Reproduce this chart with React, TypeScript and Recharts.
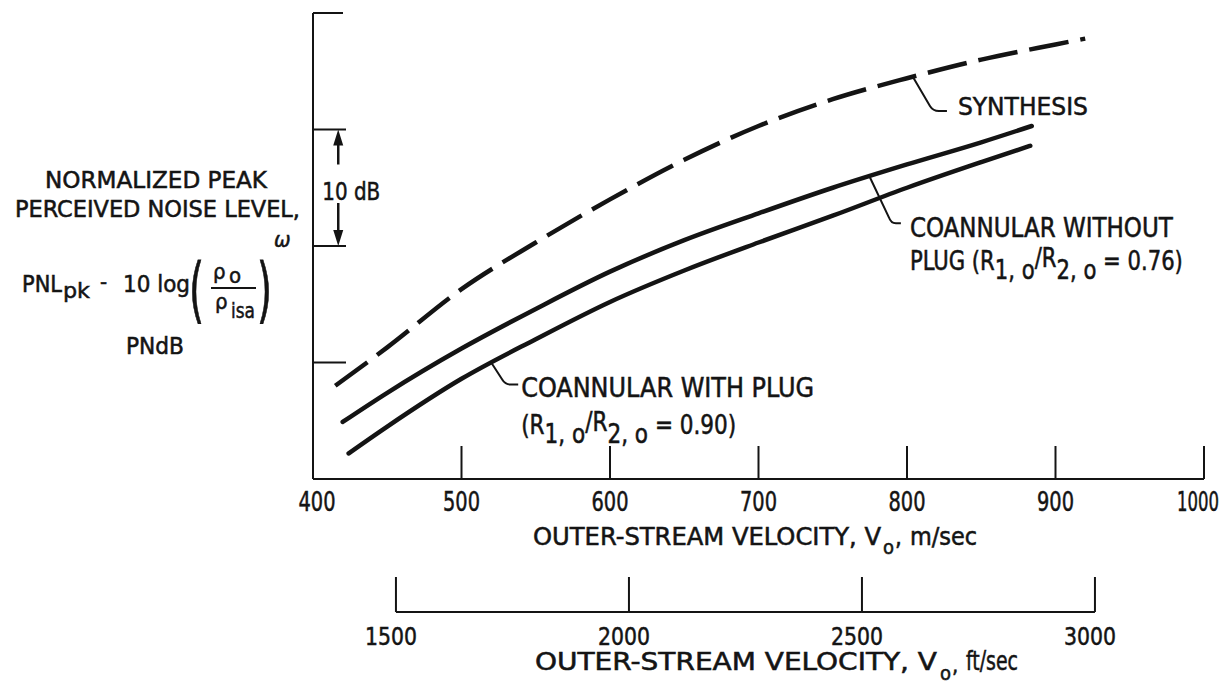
import React from 'react';
import { LineChart, Line, XAxis, YAxis, ReferenceDot, ReferenceLine } from 'recharts';

// axes
const velocityTicks = [400, 500, 600, 700, 800, 900, 1000];
const feetTicks = [1500, 2000, 2500, 3000];
const levelTicks = [10, 20, 30, 40];

// curves (PNL in dB above the axis origin)
const synthesisV = [415, 450, 500, 550, 600, 650, 700, 750, 800, 850, 900, 920];
const synthesisPNL = [8.0, 11.3, 16.3, 20.3, 24.0, 27.4, 30.3, 32.6, 34.4, 36.0, 37.3, 37.8];

const withoutPlugV = [420, 450, 500, 550, 600, 650, 700, 750, 800, 850, 884];
const withoutPlugPNL = [4.9, 7.4, 11.2, 14.6, 17.8, 20.5, 22.8, 25.0, 27.0, 28.9, 30.3];

const withPlugV = [424, 450, 500, 550, 600, 650, 700, 750, 800, 850, 883];
const withPlugPNL = [2.2, 4.5, 8.6, 12.0, 15.2, 17.9, 20.3, 22.6, 25.0, 27.2, 28.6];

const INK = '#141414';
const FONT = "'Liberation Sans Narrow', 'DejaVu Sans Condensed', 'Liberation Sans', 'DejaVu Sans', sans-serif";

const W = 1229;
const H = 685;
const MARGIN = { top: 13, right: 25, bottom: 0, left: 253 };
const Y_WIDTH = 60;
const PLOT_W = W - MARGIN.left - Y_WIDTH - MARGIN.right;
const FT_DOMAIN = [1322, 3234];

const toPoints = (v: number[], p: number[]) => v.map((x, i) => ({ v: x, pnl: p[i] }));
const feetData = feetTicks.map((ft) => ({ ft }));

const TXT = { fontFamily: FONT, fill: INK, stroke: INK, strokeWidth: 0.5 };

const VelocityTick = (props: any) => {
  const { x, y, payload } = props;
  const v = payload.value;
  const label = String(v);
  const shift = v === 400 ? 4 : v === 1000 ? -6 : 0;
  return (
    <g>
      {v !== 400 && <line x1={x} y1={y} x2={x} y2={y - 33} stroke={INK} strokeWidth={2} />}
      <text x={x + shift} y={y + 32} textAnchor="middle" fontSize={27} {...TXT}
        textLength={label.length === 4 ? 42 : 37} lengthAdjust="spacingAndGlyphs">
        {label}
      </text>
    </g>
  );
};

const FeetTick = (props: any) => {
  const { x, y, payload } = props;
  const v = payload.value;
  const step = (500 * PLOT_W) / (FT_DOMAIN[1] - FT_DOMAIN[0]);
  return (
    <g>
      <line x1={x} y1={y} x2={x} y2={y - 35} stroke={INK} strokeWidth={2} />
      {v !== feetTicks[feetTicks.length - 1] && (
        <line x1={x} y1={y} x2={x + step} y2={y} stroke={INK} strokeWidth={2} />
      )}
      <text x={x - 5} y={y + 33} textAnchor="middle" fontSize={25} {...TXT}
        textLength={52} lengthAdjust="spacingAndGlyphs">
        {v}
      </text>
    </g>
  );
};

const LevelTick = (props: any) => {
  const { x, y, payload } = props;
  const len = payload.value === 40 ? 30 : 33;
  return <line x1={x} y1={y} x2={x + len} y2={y} stroke={INK} strokeWidth={2} />;
};

const MetricTitle = () => (
  <g {...TXT}>
    <text x={533} y={545} fontSize={24} textLength={348} lengthAdjust="spacingAndGlyphs">OUTER-STREAM VELOCITY, V</text>
    <text x={883} y={554} fontSize={20}>o</text>
    <text x={895} y={545} fontSize={24}>,</text>
    <text x={910} y={545} fontSize={24} textLength={67} lengthAdjust="spacingAndGlyphs">m/sec</text>
  </g>
);

const FeetTitle = () => (
  <g {...TXT}>
    <text x={535} y={670} fontSize={24} textLength={402} lengthAdjust="spacingAndGlyphs">OUTER-STREAM VELOCITY, V</text>
    <text x={940} y={680} fontSize={20}>o</text>
    <text x={952} y={673} fontSize={22}>,</text>
    <text x={966} y={670} fontSize={26} textLength={52} lengthAdjust="spacingAndGlyphs">ft/sec</text>
  </g>
);

const LevelTitle = () => (
  <g {...TXT}>
    <text x={45} y={188} fontSize={23} textLength={222} lengthAdjust="spacingAndGlyphs">NORMALIZED PEAK</text>
    <text x={15} y={217} fontSize={23} textLength={285} lengthAdjust="spacingAndGlyphs">PERCEIVED NOISE LEVEL,</text>
    <text x={22} y={292} fontSize={23} textLength={40} lengthAdjust="spacingAndGlyphs">PNL</text>
    <text x={63} y={298} fontSize={22} textLength={27} lengthAdjust="spacingAndGlyphs">pk</text>
    <text x={100} y={289} fontSize={22}>-</text>
    <text x={123} y={292} fontSize={23} textLength={67} lengthAdjust="spacingAndGlyphs">10 log</text>
    <text x={189} y={314} fontSize={72} strokeWidth={0.8} textLength={15} lengthAdjust="spacingAndGlyphs">(</text>
    <text x={213} y={279} fontSize={22}>ρ</text>
    <text x={229} y={283} fontSize={22}>o</text>
    <line x1={211} y1={288} x2={256} y2={288} stroke={INK} strokeWidth={2} />
    <text x={215} y={309} fontSize={22}>ρ</text>
    <text x={231} y={318} fontSize={22} textLength={24} lengthAdjust="spacingAndGlyphs">isa</text>
    <text x={257} y={314} fontSize={72} strokeWidth={0.8} textLength={15} lengthAdjust="spacingAndGlyphs">)</text>
    <text x={274} y={247} fontSize={22} fontStyle="italic">ω</text>
    <text x={155} y={354} fontSize={23} textAnchor="middle" textLength={58} lengthAdjust="spacingAndGlyphs">PNdB</text>
  </g>
);

const TenDb = (props: any) => {
  const { x1, y1, y2 } = props;
  const x = x1;
  return (
    <g>
      <line x1={x} y1={y1 + 12} x2={x} y2={y1 + 35} stroke={INK} strokeWidth={2.5} />
      <polygon points={`${x},${y1} ${x - 5},${y1 + 16} ${x + 5},${y1 + 16}`} fill={INK} />
      <line x1={x} y1={y2 - 43} x2={x} y2={y2 - 12} stroke={INK} strokeWidth={2.5} />
      <polygon points={`${x},${y2} ${x - 5},${y2 - 16} ${x + 5},${y2 - 16}`} fill={INK} />
      <text x={x - 16} y={y1 + 70} fontSize={25} {...TXT} textLength={58} lengthAdjust="spacingAndGlyphs">10 dB</text>
    </g>
  );
};

const SynthesisNote = (props: any) => {
  const { cx, cy } = props;
  return (
    <g>
      <path d={`M${cx} ${cy} L${cx + 17} ${cy + 29} Q${cx + 20} ${cy + 34} ${cx + 26} ${cy + 34} L${cx + 34} ${cy + 34}`} stroke={INK} strokeWidth={2} fill="none" />
      <text x={cx + 45} y={cy + 38} fontSize={25} {...TXT} textLength={130} lengthAdjust="spacingAndGlyphs">SYNTHESIS</text>
    </g>
  );
};

const WithoutPlugNote = (props: any) => {
  const { cx, cy } = props;
  return (
    <g>
      <path d={`M${cx} ${cy} L${cx + 19} ${cy + 40} Q${cx + 21} ${cy + 46} ${cx + 26} ${cy + 46} L${cx + 31} ${cy + 46}`} stroke={INK} strokeWidth={2} fill="none" />
      <text x={cx + 40} y={cy + 60} fontSize={26} {...TXT} textLength={263} lengthAdjust="spacingAndGlyphs">COANNULAR WITHOUT</text>
      <text x={cx + 40} y={cy + 93} fontSize={26} {...TXT} textLength={273} lengthAdjust="spacingAndGlyphs">
        PLUG (R<tspan dy={9}>1, o</tspan><tspan dy={-12}>/R</tspan><tspan dy={12}>2, o</tspan><tspan dy={-9}> = 0.76)</tspan>
      </text>
    </g>
  );
};

const WithPlugNote = (props: any) => {
  const { cx, cy } = props;
  return (
    <g>
      <path d={`M${cx} ${cy} L${cx + 11} ${cy + 17} Q${cx + 14} ${cy + 22} ${cx + 19} ${cy + 22} L${cx + 27} ${cy + 22}`} stroke={INK} strokeWidth={2} fill="none" />
      <text x={cx + 30} y={cy + 34} fontSize={27} {...TXT} textLength={293} lengthAdjust="spacingAndGlyphs">COANNULAR WITH PLUG</text>
      <text x={cx + 30} y={cy + 71} fontSize={26} {...TXT} textLength={215} lengthAdjust="spacingAndGlyphs">
        (R<tspan dy={9}>1, o</tspan><tspan dy={-12}>/R</tspan><tspan dy={12}>2, o</tspan><tspan dy={-9}> = 0.90)</tspan>
      </text>
    </g>
  );
};

const velocityTick = <VelocityTick />;
const feetTick = <FeetTick />;
const levelTick = <LevelTick />;
const metricTitle = <MetricTitle />;
const feetTitle = <FeetTitle />;
const levelTitle = <LevelTitle />;

export default function App() {
  return (
    <div style={{ position: 'absolute', left: 0, top: 0, width: W, height: H, background: '#fff' }}>
      <LineChart width={W} height={H} margin={MARGIN} data={feetData}>
        <XAxis
          xAxisId={0}
          dataKey="v"
          type="number"
          domain={[400, 1000]}
          allowDataOverflow
          ticks={velocityTicks}
          interval={0}
          height={133}
          tickLine={false}
          tickSize={0}
          tickMargin={0}
          axisLine={{ stroke: INK, strokeWidth: 2 }}
          tick={velocityTick}
          label={metricTitle}
        />
        <XAxis
          xAxisId={1}
          dataKey="ft"
          type="number"
          domain={FT_DOMAIN}
          allowDataOverflow
          ticks={feetTicks}
          interval={0}
          height={73}
          tickLine={false}
          tickSize={0}
          tickMargin={0}
          axisLine={false}
          tick={feetTick}
          label={feetTitle}
        />
        <YAxis
          type="number"
          domain={[0, 40]}
          allowDataOverflow
          ticks={levelTicks}
          interval={0}
          width={Y_WIDTH}
          tick={levelTick}
          tickLine={false}
          tickSize={0}
          tickMargin={0}
          axisLine={{ stroke: INK, strokeWidth: 2 }}
          label={levelTitle}
        />
        <Line xAxisId={0} data={toPoints(synthesisV, synthesisPNL)} dataKey="pnl" type="monotone" stroke={INK}
          strokeWidth={4.5} strokeDasharray="40 12" dot={false} isAnimationActive={false} />
        <Line xAxisId={0} data={toPoints(withoutPlugV, withoutPlugPNL)} dataKey="pnl" type="monotone" stroke={INK}
          strokeWidth={4.5} strokeLinecap="round" dot={false} isAnimationActive={false} />
        <Line xAxisId={0} data={toPoints(withPlugV, withPlugPNL)} dataKey="pnl" type="monotone" stroke={INK}
          strokeWidth={4.5} strokeLinecap="round" dot={false} isAnimationActive={false} />
        <ReferenceLine xAxisId={0} segment={[{ x: 417, y: 30 }, { x: 417, y: 20 }]} shape={<TenDb />} />
        <ReferenceDot xAxisId={0} x={804} y={34.5} shape={<SynthesisNote />} />
        <ReferenceDot xAxisId={0} x={775} y={25.9} shape={<WithoutPlugNote />} />
        <ReferenceDot xAxisId={0} x={520} y={10.0} shape={<WithPlugNote />} />
      </LineChart>
    </div>
  );
}
